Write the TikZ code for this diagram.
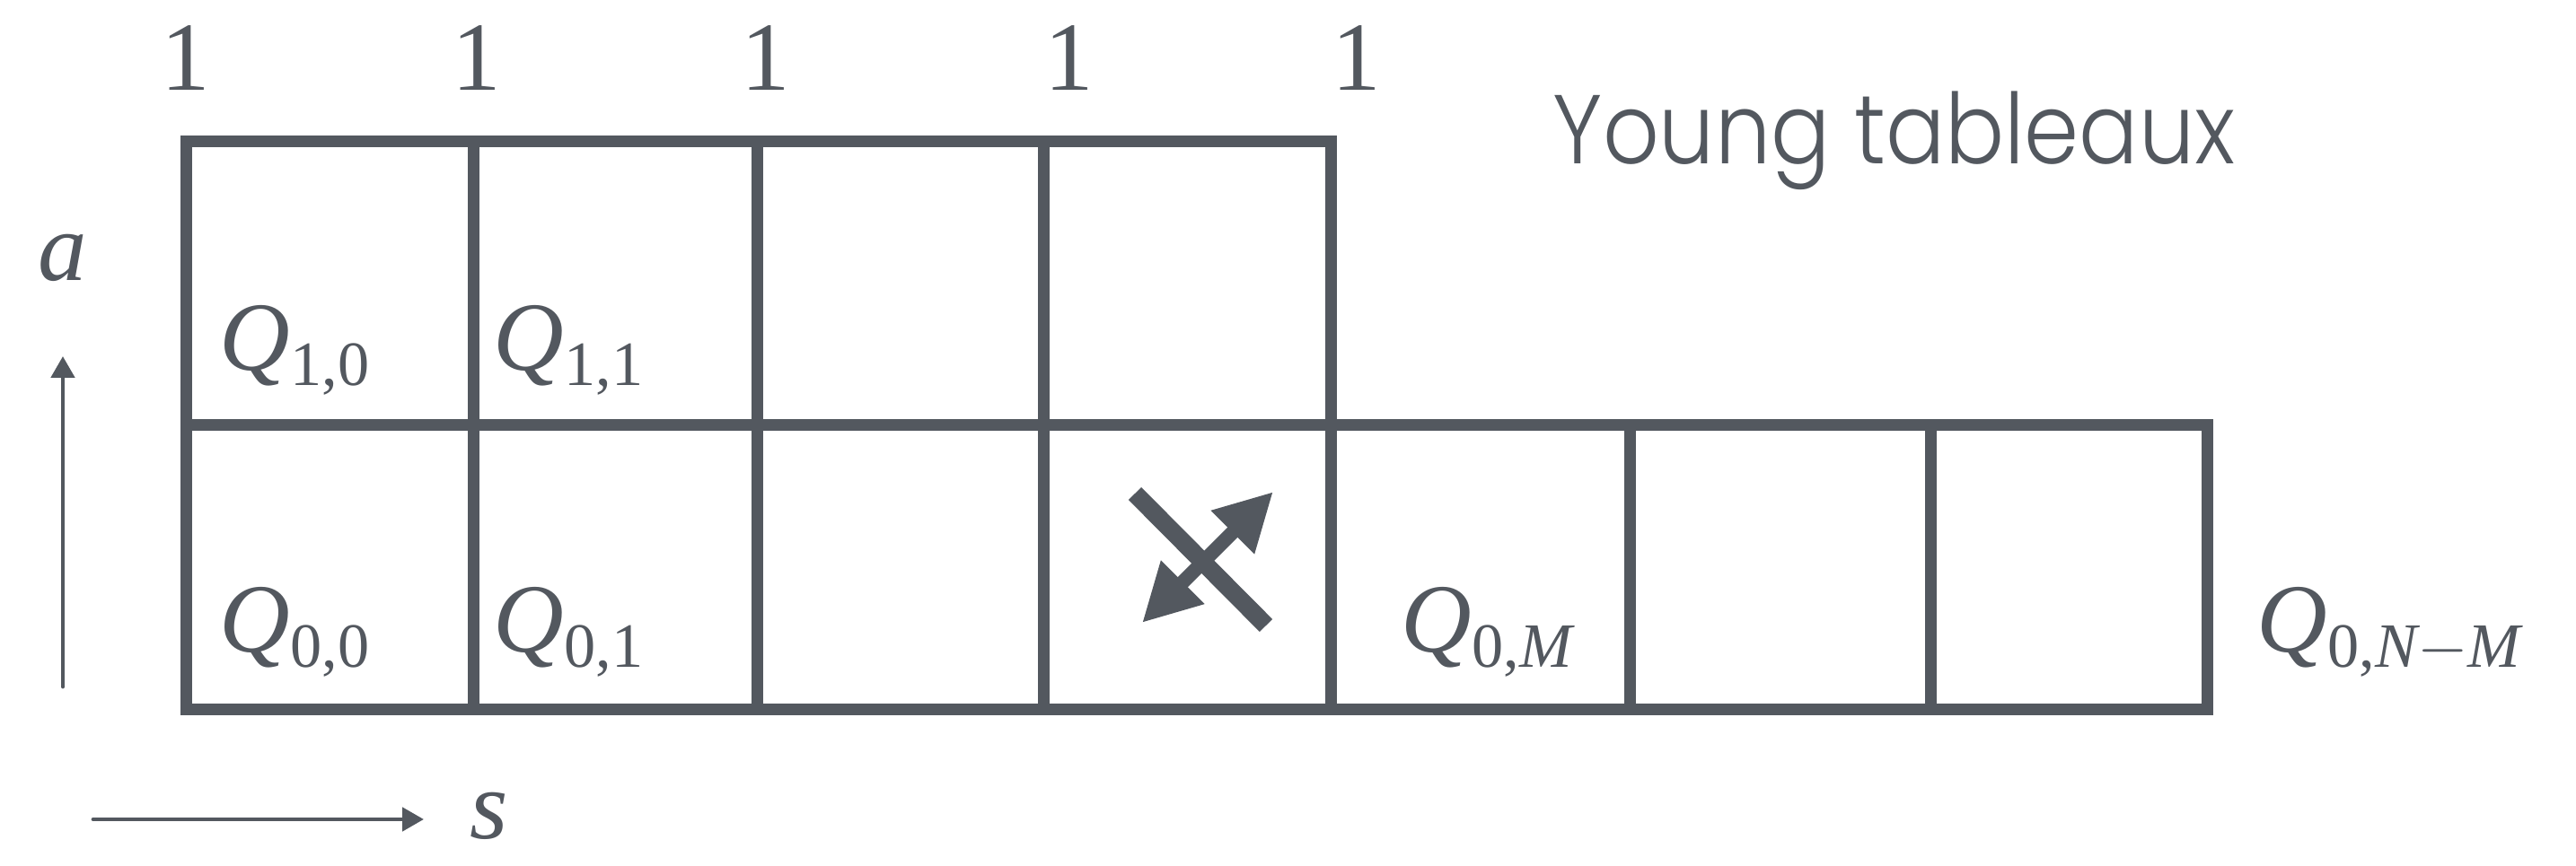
\documentclass[tikz,border=0pt]{standalone}
\usepackage{amsmath}
\usepackage{fontspec}
\setmainfont{Liberation Serif}
\newfontfamily\poppinsligera{Poppins Light}[FakeStretch=0.9]
\usetikzlibrary{arrows.meta,positioning}
\definecolor{pizarra}{HTML}{53585F}
\DeclareMathSizes{31}{31}{20}{15}
\newcommand{\tamano}{\fontsize{31}{37}\selectfont}
\newcommand{\Qcelda}[1]{$\mathit{Q}_{#1}$}

\begin{document}
\begin{tikzpicture}[>=Latex,line cap=round,
    rejilla/.style={pizarra,line width=3.7pt,line cap=rect,line join=miter},
    etiqueta/.style={pizarra,font=\tamano,inner sep=0pt},
    eje/.style={pizarra,line width=1.4pt,-{Triangle[length=2.4mm,width=2.6mm]}}]
    \useasboundingbox (0,0) rectangle (28.69,9.65);
    % --- contorno del diagrama de Young ---
    \draw[rejilla] (2.07,8.07) -- (14.82,8.07) -- (14.82,4.91) -- (24.58,4.91)
          -- (24.58,1.74) -- (2.07,1.74) -- cycle;
    \draw[rejilla] (2.07,4.91) -- (14.82,4.91) (14.82,4.91) -- (14.82,1.74);
    \foreach \x in {5.27,8.435,11.62}{
      \draw[rejilla] (\x,8.07) -- (\x,1.74);
    }
    \foreach \x in {18.15,21.50}{
      \draw[rejilla] (\x,4.91) -- (\x,1.74);
    }
    % --- pesos de la primera fila ---
    \foreach \x [count=\i] in {2.07,5.31,8.53,11.91,15.11}{
      \node[etiqueta,anchor=base] (uno\i) at (\x,8.64) {1};
    }
    \node[etiqueta,font=\poppinsligera\tamano,anchor=base west] (titulo)
          at (17.29,7.82) {Young tableaux};
    % --- celdas etiquetadas ---
    \node[etiqueta,anchor=base west] (q10) at (2.44,5.52) {\Qcelda{\text{1,0}}};
    \node[etiqueta,anchor=base west] (q11) at (5.49,5.52) {\Qcelda{\text{1,1}}};
    \node[etiqueta,anchor=base west] (q00) at (2.44,2.38) {\Qcelda{\text{0,0}}};
    \node[etiqueta,anchor=base west] (q01) at (5.49,2.38) {\Qcelda{\text{0,1}}};
    \node[etiqueta,anchor=base west] (q0M) at (15.60,2.38) {\Qcelda{\text{0,}\mathit{M}}};
    \node[etiqueta,anchor=base west] (q0NM) at (25.13,2.38) {\Qcelda{\text{0,}\mathit{N}-\mathit{M}}};
    % --- simbolo de transicion prohibida ---
    \coordinate (barraA) at (12.64,4.15);
    \coordinate (barraB) at (14.10,2.68);
    \coordinate (flechaA) at (12.72,2.71);
    \coordinate (flechaB) at (14.18,4.17);
    \draw[pizarra,line width=4.5pt,line cap=butt,
          {Triangle[length=6.4mm,width=6.4mm]}-{Triangle[length=6.4mm,width=6.4mm]}]
          (flechaA) -- (flechaB);
    \draw[pizarra,line width=5.7pt,line cap=butt] (barraA) -- (barraB);
    % --- ejes a y s ---
    \coordinate (aIni) at (0.70,2.00);
    \coordinate (aFin) at (0.70,5.68);
    \coordinate (sIni) at (1.04,0.52);
    \coordinate (sFin) at (4.72,0.52);
    \draw[eje] (aIni) -- (aFin);
    \draw[eje] (sIni) -- (sFin);
    \node[etiqueta,anchor=base] (ejeA) at (0.70,6.52) {$\mathit{a}$};
    \node[etiqueta,anchor=base] (ejeS) at (5.45,0.30) {$\mathit{s}$};
  \end{tikzpicture}
\end{document}
